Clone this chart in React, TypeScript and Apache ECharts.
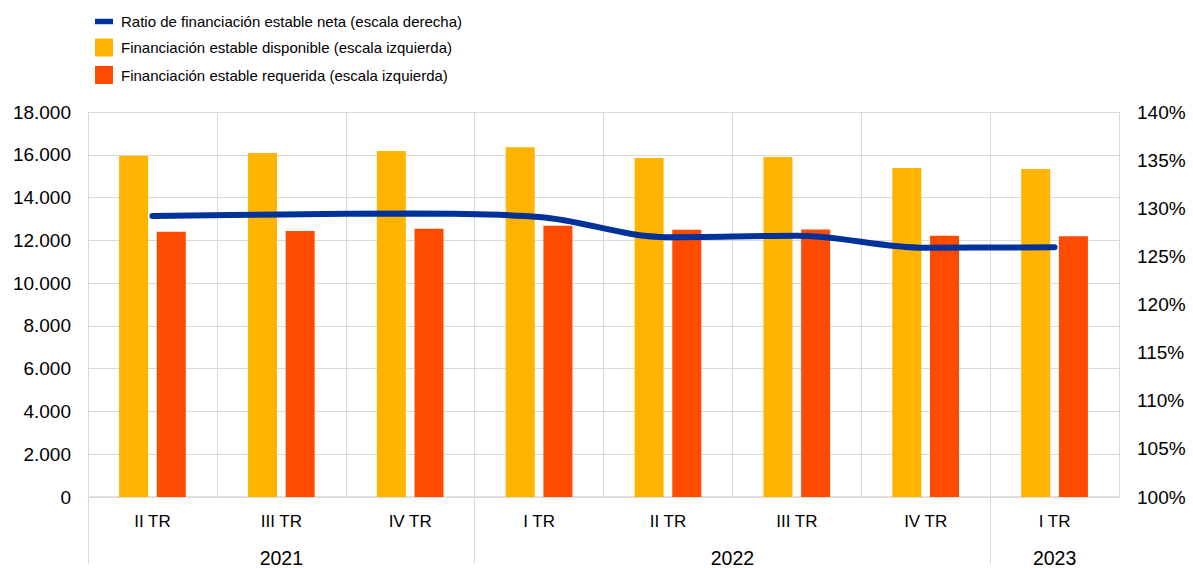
import React, { useEffect, useRef } from "react";
import * as echarts from "echarts";

const quarters = ["II TR", "III TR", "IV TR", "I TR", "II TR", "III TR", "IV TR", "I TR"];
const years = ["2021", "2022", "2023"];
const quartersPerYear = [3, 4, 1];
const disponible = [15950, 16080, 16180, 16350, 15850, 15900, 15380, 15330];
const requerida = [12400, 12440, 12540, 12680, 12500, 12510, 12220, 12190];
const ratio = [129.2, 129.35, 129.45, 129.1, 127.0, 127.15, 125.9, 125.95];

const leftTicks = { min: 0, max: 18000, interval: 2000 };
const rightTicks = { min: 100, max: 140, interval: 5 };

const FONT = "'Liberation Sans', Arial, sans-serif";
const GRID = "#d9d9d9";

function buildYearAxis() {
  // half-quarter positions (boundaryGap false): 2*N + 1 points
  const n = quarters.length * 2 + 1;
  const labels: string[] = new Array(n).fill("");
  const boundaries: boolean[] = new Array(n).fill(false);
  let start = 0;
  years.forEach((y, i) => {
    const cnt = quartersPerYear[i];
    labels[start * 2 + cnt] = y;
    boundaries[start * 2] = true;
    start += cnt;
  });
  return { labels, boundaries };
}

export default function App() {
  const ref = useRef<HTMLDivElement>(null);
  useEffect(() => {
    if (!ref.current) return;
    const chart = echarts.init(ref.current, undefined, { renderer: "svg" });
    const ya = buildYearAxis();
    chart.setOption({
      animation: false,
      textStyle: { fontFamily: FONT },
      legend: {
        orient: "vertical",
        left: 90,
        top: 9,
        itemWidth: 18,
        itemHeight: 18,
        itemGap: 9.5,
        textStyle: { fontSize: 15, color: "#000", fontFamily: FONT, padding: [0, 0, 0, 3] },
        data: [
          { name: "Ratio de financiación estable neta (escala derecha)", icon: "path://M0,0h18v5.5h-18z" },
          { name: "Financiación estable disponible (escala izquierda)", icon: "rect" },
          { name: "Financiación estable requerida (escala izquierda)", icon: "rect" },
        ],
      },
      grid: { left: 88, right: 74, top: 112, bottom: 67, containLabel: false },
      xAxis: [
        {
          type: "category",
          data: quarters,
          boundaryGap: true,
          axisLine: { show: true, lineStyle: { color: GRID, width: 1.5 } },
          axisTick: { show: false },
          splitLine: { show: true, lineStyle: { color: GRID, width: 1 } },
          axisLabel: { fontSize: 17, color: "#000", margin: 16, fontFamily: FONT },
        },
        {
          type: "category",
          data: ya.labels,
          boundaryGap: false,
          position: "bottom",
          axisLine: { show: false },
          axisTick: {
            show: true,
            length: 67,
            interval: (i: number) => ya.boundaries[i],
            lineStyle: { color: GRID, width: 1 },
          },
          splitLine: { show: false },
          axisLabel: {
            fontSize: 19.5,
            color: "#000",
            margin: 51,
            interval: 0,
            fontFamily: FONT,
          },
        },
      ],
      yAxis: [
        {
          type: "value",
          ...leftTicks,
          axisLine: { show: false },
          axisTick: { show: false },
          splitLine: { show: true, lineStyle: { color: GRID, width: 1 } },
          axisLabel: {
            fontSize: 19,
            color: "#000",
            margin: 17,
            fontFamily: FONT,
            formatter: (v: number) => (v === 0 ? "0" : v.toString().replace(/\B(?=(\d{3})+(?!\d))/g, ".")),
          },
        },
        {
          type: "value",
          ...rightTicks,
          position: "right",
          axisLine: { show: false },
          axisTick: { show: false },
          splitLine: { show: false },
          axisLabel: { fontSize: 19, color: "#000", margin: 18, fontFamily: FONT, formatter: "{value}%" },
        },
      ],
      series: [
        {
          name: "Financiación estable disponible (escala izquierda)",
          type: "bar",
          data: disponible,
          barWidth: 29,
          barGap: "30%",
          itemStyle: { color: "#FFB400" },
          xAxisIndex: 0,
          yAxisIndex: 0,
        },
        {
          name: "Financiación estable requerida (escala izquierda)",
          type: "bar",
          data: requerida,
          barWidth: 29,
          barGap: "30%",
          itemStyle: { color: "#FF4B00" },
          xAxisIndex: 0,
          yAxisIndex: 0,
        },
        {
          name: "Ratio de financiación estable neta (escala derecha)",
          type: "line",
          data: ratio,
          xAxisIndex: 0,
          yAxisIndex: 1,
          smooth: 0.35,
          symbol: "none",
          z: 5,
          itemStyle: { color: "#003299" },
          lineStyle: { color: "#003299", width: 6, cap: "round" },
        },
      ],
    });
    return () => chart.dispose();
  }, []);
  return (
    <div
      ref={ref}
      style={{ position: "absolute", left: 0, top: 0, width: 1193, height: 568, background: "#fff" }}
    />
  );
}
